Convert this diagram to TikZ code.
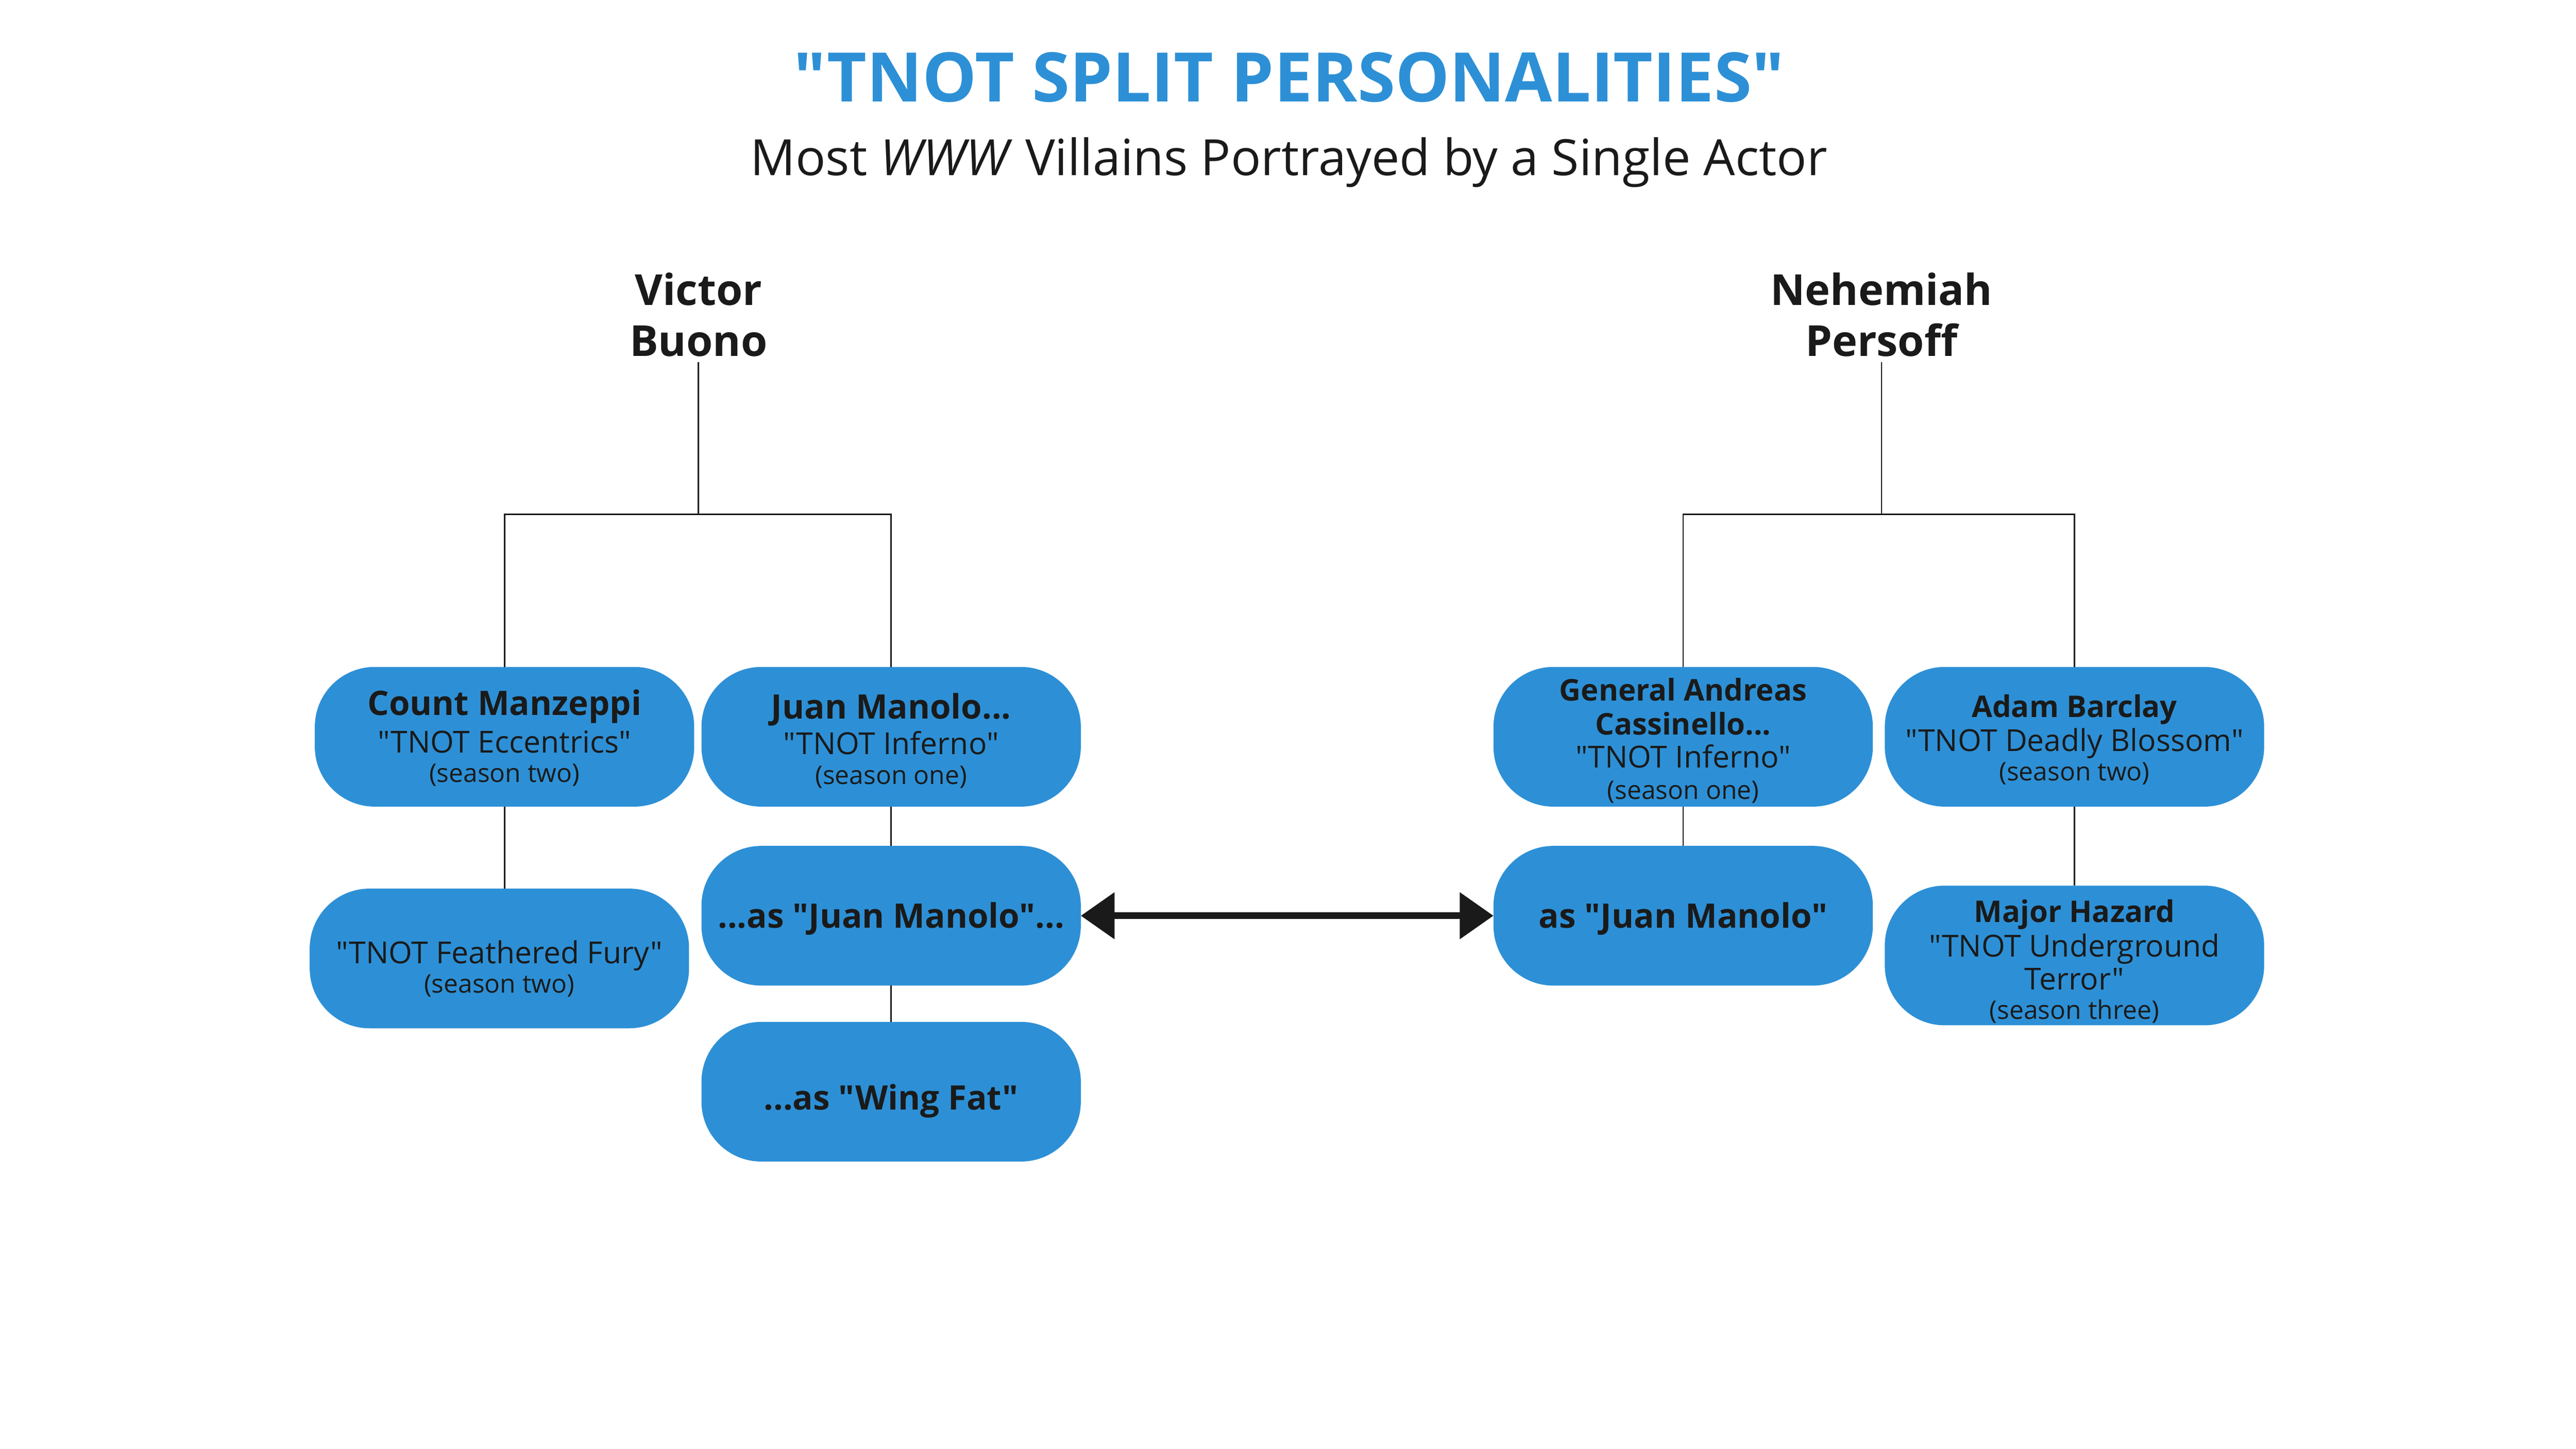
\documentclass[tikz,border=0pt]{standalone}
\usepackage{fontspec}
\setmainfont{Open Sans}[Ligatures=TeXOff]
\usetikzlibrary{positioning,arrows.meta}

\definecolor{tnotblue}{HTML}{2D90D6}
\definecolor{inkblack}{HTML}{1A1A1A}

% text lines inside a box
\newcommand{\who}[1]{{\bfseries\fontsize{7.9}{9}\selectfont #1}}
\newcommand{\whos}[1]{{\bfseries\fontsize{7}{8}\selectfont #1}}
\newcommand{\ep}[1]{{\fontsize{7.1}{8}\selectfont #1}}
\newcommand{\ssn}[1]{{\fontsize{6}{7}\selectfont (#1)}}
\newcommand{\topstrut}[1]{\rule{0pt}{#1}}
\newcommand{\boxfont}{\fontsize{6}{6.9}\selectfont\lineskiplimit=-10pt\relax}

\begin{document}
\begin{tikzpicture}[x=1pt, y=-1pt, >={Triangle[length=7.9pt,width=10.6pt]},
  villain/.style={rectangle, rounded corners=14pt, fill=tnotblue, text=inkblack,
    minimum width=88.8pt, minimum height=32.7pt, inner sep=0pt, outer sep=0pt,
    align=center, font=\boxfont},
  actor/.style={text=inkblack, align=center, inner sep=1pt, font=\bfseries\fontsize{10}{12}\selectfont},
  link/.style={-, draw=inkblack, line width=0.3pt}]

  \useasboundingbox (0,0) rectangle (603,339.2);

  % Title
  \node[text=tnotblue, font=\bfseries\fontsize{16}{18}\selectfont] (title) at (301.7,18.1) {"TNOT SPLIT PERSONALITIES"};
  \node[text=inkblack, font=\fontsize{11.7}{14}\selectfont] (sub) at (301.7,38.0) {Most \textit{WWW} Villains Portrayed by a Single Actor};

  % Actors
  \node[actor] (victor) at (163.5,73.7) {Victor\\Buono};
  \node[actor] (nehemiah) at (440.4,73.7) {Nehemiah\\Persoff};

  % Victor Buono's villains
  \node[villain] (count) at (118.1,172.5) {\topstrut{6.6pt}\who{Count Manzeppi}\\[1.9pt] \ep{"TNOT Eccentrics"}\\ \ssn{season two}};
  \node[villain] (juan) at (208.6,172.5) {\topstrut{7.8pt}\who{Juan Manolo...}\\[1.5pt] \ep{"TNOT Inferno"}\\ \ssn{season one}};
  \node[villain] (fury) [below=19.2pt of count, xshift=-1.2pt] {\topstrut{10.2pt}\ep{"TNOT Feathered Fury"}\\ \ssn{season two}};
  \node[villain] (asjuan) [below=9.2pt of juan] {\topstrut{7.4pt}\who{...as "Juan Manolo"...}};
  \node[villain] (wingfat) [below=8.5pt of asjuan] {\topstrut{10.4pt}\who{...as "Wing Fat"}};

  % Nehemiah Persoff's villains
  \node[villain] (general) at (394.0,172.5) {\topstrut{7.1pt}\whos{General Andreas}\\[1.1pt] \whos{Cassinello...}\\[0.8pt] \ep{"TNOT Inferno"}\\[0.4pt] \ssn{season one}};
  \node[villain] (barclay) at (485.6,172.5) {\topstrut{6.7pt}\whos{Adam Barclay}\\[1.1pt] \ep{"TNOT Deadly Blossom"}\\ \ssn{season two}};
  \node[villain] (manolo) [below=9.2pt of general] {\topstrut{7.4pt}\who{as "Juan Manolo"}};
  \node[villain] (hazard) [below=18.5pt of barclay] {\topstrut{8.1pt}\whos{Major Hazard}\\[1.1pt] \ep{"TNOT Underground}\\[0.8pt] \ep{Terror"}\\ \ssn{season three}};

  % Tree lines
  \coordinate (vbar) at (163.5,120.4);
  \coordinate (nbar) at (440.4,120.4);
  \draw[link] (victor.south) -- (vbar);
  \draw[link] (vbar) -| (count.north);
  \draw[link] (vbar) -| (juan.north);
  \draw[link] (nehemiah.south) -- (nbar);
  \draw[link] (nbar) -| (general.north);
  \draw[link] (nbar) -| (barclay.north);
  \draw[link] (count.south) -- (count.south |- fury.north);
  \draw[link] (juan) -- (asjuan);
  \draw[link] (asjuan) -- (wingfat);
  \draw[link] (general) -- (manolo);
  \draw[link] (barclay) -- (hazard);

  % Same character, two actors
  \draw[<->, draw=inkblack, fill=inkblack, line width=1.6pt] (asjuan.east) -- (manolo.west);
\end{tikzpicture}
\end{document}
